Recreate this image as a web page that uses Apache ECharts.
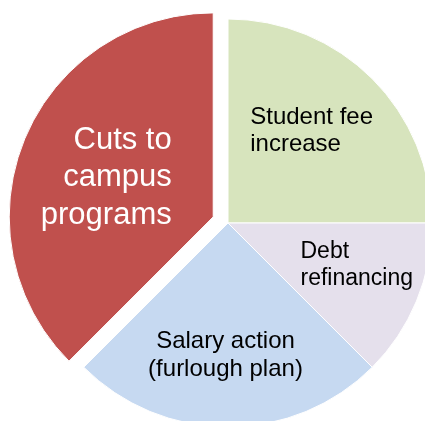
<!DOCTYPE html>
<html>
<head>
<meta charset="utf-8">
<script src="https://cdn.jsdelivr.net/npm/echarts@6/dist/echarts.min.js"></script>
<style>
html,body{margin:0;padding:0;background:#fff;}
#chart{width:425px;height:421px;}
</style>
</head>
<body>
<div id="chart"></div>
<script>
// ---- data ----
var categories = ['Student fee\nincrease', 'Debt\nrefinancing', 'Salary action\n(furlough plan)', 'Cuts to\ncampus\nprograms'];
var values = [25, 12.5, 25, 37.5];
var explodedIndex = 3;

// ---- styles ----
var colors = ['#D7E4BD', '#E5E0EC', '#C6D9F1', '#C0504D'];
var FONT = '"Liberation Sans", Arial, Helvetica, sans-serif';
var labelStyles = [
  { size: 24, lh: 27.5, color: '#000', align: 'left',   width: 122, dx: 9,    dy: -18 },
  { size: 23, lh: 27,   color: '#000', align: 'left',   width: 113, dx: 32,   dy: 2 },
  { size: 24, lh: 28,   color: '#000', align: 'center', width: 156, dx: -2.5, dy: 27 },
  { size: 31, lh: 37.5, color: '#fff', align: 'right',  width: 131, dx: -10,  dy: 1 }
];

function pad(dx, dy) {
  return [dy < 0 ? 0 : 2 * dy, dx < 0 ? -2 * dx : 0, dy < 0 ? -2 * dy : 0, dx < 0 ? 0 : 2 * dx];
}

var data = categories.map(function (name, i) {
  var ls = labelStyles[i];
  var rich = {
    t: { fontSize: ls.size, lineHeight: ls.lh, color: ls.color, fontFamily: FONT, width: ls.width, align: ls.align }
  };
  return {
    name: name,
    value: values[i],
    selected: i === explodedIndex,
    itemStyle: { color: colors[i] },
    label: {
      show: true,
      position: 'inside',
      color: ls.color,
      fontSize: ls.size,
      lineHeight: ls.lh,
      fontFamily: FONT,
      padding: pad(ls.dx, ls.dy),
      rich: rich,
      formatter: function (p) {
        return p.name.split('\n').map(function (l) { return '{t|' + l + '}'; }).join('\n');
      }
    }
  };
});

var chart = echarts.init(document.getElementById('chart'), null, { renderer: 'canvas' });
chart.setOption({
  animation: false,
  backgroundColor: '#ffffff',
  series: [{
    type: 'pie',
    center: [228, 223],
    radius: [0, 204],
    startAngle: 90,
    clockwise: true,
    selectedMode: 'single',
    selectedOffset: 16,
    avoidLabelOverlap: false,
    labelLayout: { hideOverlap: false },
    itemStyle: { borderColor: '#ffffff', borderWidth: 1 },
    emphasis: { scale: false, disabled: true },
    select: { itemStyle: { borderColor: '#ffffff', borderWidth: 1 } },
    labelLine: { show: false },
    data: data
  }]
});
</script>
</body>
</html>
